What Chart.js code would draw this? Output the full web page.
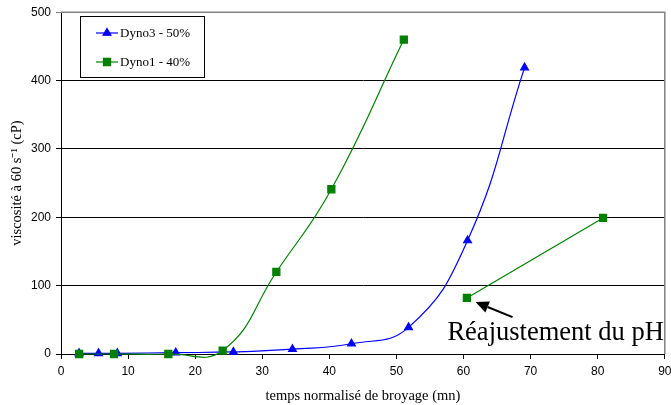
<!DOCTYPE html>
<html>
<head>
<meta charset="utf-8">
<script src="https://cdn.jsdelivr.net/npm/chart.js@4/dist/chart.umd.min.js"></script>
<style>
  html, body { margin: 0; padding: 0; background: #fff; }
  #wrap { width: 671px; height: 405px; }
</style>
</head>
<body>
<div id="wrap"><canvas id="chart"></canvas></div>
<script>
// --- DATA ---
const dyno3X = [2.7, 5.6, 8.4, 17.1, 25.7, 34.5, 43.3, 51.8, 60.6, 69.1];
const dyno3Y = [1, 1, 1, 2, 3, 7, 15, 39, 166, 419];
// null = break in the curve before the pH re-adjustment
const dyno1X = [2.7, 7.9, 16.0, 24.1, 32.1, 40.3, 51.1, 55, 60.5, 80.8];
const dyno1Y = [0, 0, 0, 5, 120, 241, 460, null, 82, 199];
const seriesNames = ["Dyno3 - 50%", "Dyno1 - 40%"];
const xTicks = [0, 10, 20, 30, 40, 50, 60, 70, 80, 90];
const yTicks = [0, 100, 200, 300, 400, 500];
const noteText = "Réajustement du pH";

const BLUE = "#0000ff";
const GREEN = "#008000";

function toPoints(xs, ys) {
  return xs.map((x, i) => ({ x: x, y: ys[i] }));
}

// legend drawn by hand: framed box, line + marker, serif text
const boxLegend = {
  id: "boxLegend",
  afterDraw(chart) {
    const ctx = chart.ctx;
    ctx.save();
    ctx.strokeStyle = "#000";
    ctx.lineWidth = 1;
    ctx.strokeRect(80.5, 16.5, 124, 61);
    ctx.font = "13px 'Liberation Serif', 'Times New Roman', serif";
    ctx.textBaseline = "middle";
    ctx.fillStyle = "#000";
    chart.data.datasets.forEach((ds, i) => {
      const y = 33 + i * 29;
      ctx.strokeStyle = ds.borderColor;
      ctx.lineWidth = 1.2;
      ctx.beginPath();
      ctx.moveTo(96, y);
      ctx.lineTo(118, y);
      ctx.stroke();
      Chart.helpers.drawPoint(ctx, {
        pointStyle: ds.pointStyle,
        radius: ds.pointRadius,
        rotation: 0,
        borderWidth: 1
      }, 107, y);
      ctx.fillStyle = ds.pointBackgroundColor;
      ctx.fill();
      ctx.fillStyle = "#000";
      ctx.fillText(ds.label, 120, y + 1);
    });
    ctx.restore();
  }
};

// gray frame on the top/right, the note and its arrow
const frameAndNote = {
  id: "frameAndNote",
  beforeDatasetsDraw(chart) {
    const a = chart.chartArea;
    const ctx = chart.ctx;
    ctx.save();
    ctx.strokeStyle = "#808080";
    ctx.lineWidth = 1.5;
    ctx.beginPath();
    ctx.moveTo(a.left, a.top);
    ctx.lineTo(a.right, a.top);
    ctx.lineTo(a.right, a.bottom);
    ctx.stroke();
    ctx.restore();
  },
  afterDraw(chart) {
    const xs = chart.scales.x, ys = chart.scales.y;
    const ctx = chart.ctx;
    ctx.save();
    ctx.font = "26.5px 'Liberation Serif', 'Times New Roman', serif";
    ctx.fillStyle = "#000";
    ctx.textBaseline = "alphabetic";
    ctx.fillText(noteText, xs.getPixelForValue(57.6), ys.getPixelForValue(20));
    // arrow
    const tx = xs.getPixelForValue(61.8), ty = ys.getPixelForValue(76);
    const fx = xs.getPixelForValue(67.3), fy = ys.getPixelForValue(54);
    const ang = Math.atan2(ty - fy, tx - fx);
    const head = 13, half = 6;
    const bx = tx - head * Math.cos(ang), by = ty - head * Math.sin(ang);
    ctx.strokeStyle = "#000";
    ctx.lineWidth = 2;
    ctx.beginPath();
    ctx.moveTo(fx, fy);
    ctx.lineTo(bx, by);
    ctx.stroke();
    ctx.beginPath();
    ctx.moveTo(tx, ty);
    ctx.lineTo(bx + half * Math.sin(ang), by - half * Math.cos(ang));
    ctx.lineTo(bx - half * Math.sin(ang), by + half * Math.cos(ang));
    ctx.closePath();
    ctx.fill();
    ctx.restore();
  }
};

const tickFont = { family: "'Liberation Sans', Arial, sans-serif", size: 12 };
const titleFont = { family: "'Liberation Serif', 'Times New Roman', serif", size: 14.5 };

new Chart(document.getElementById("chart"), {
  type: "line",
  data: {
    datasets: [
      {
        label: seriesNames[0],
        data: toPoints(dyno3X, dyno3Y),
        order: 2,
        borderColor: BLUE,
        backgroundColor: BLUE,
        pointBackgroundColor: BLUE,
        pointBorderColor: BLUE,
        pointStyle: "triangle",
        pointRadius: 4.5,
        borderWidth: 1.2,
        tension: 0.45,
        fill: false,
        clip: false
      },
      {
        label: seriesNames[1],
        data: toPoints(dyno1X, dyno1Y),
        order: 1,
        borderColor: GREEN,
        backgroundColor: GREEN,
        pointBackgroundColor: GREEN,
        pointBorderColor: GREEN,
        pointStyle: "rect",
        pointRadius: 5,
        borderWidth: 1.2,
        tension: 0.45,
        spanGaps: false,
        fill: false,
        clip: false
      }
    ]
  },
  options: {
    responsive: true,
    maintainAspectRatio: false,
    animation: false,
    layout: { padding: { top: 11, right: 2, left: 0, bottom: 0 } },
    elements: { line: { capBezierPoints: false } },
    plugins: {
      legend: { display: false },
      tooltip: { enabled: false }
    },
    scales: {
      x: {
        type: "linear",
        min: xTicks[0],
        max: xTicks[xTicks.length - 1],
        afterBuildTicks: (s) => { s.ticks = xTicks.map((v) => ({ value: v })); },
        afterFit: (s) => { s.height = 51; s.paddingRight = 5; },
        ticks: { color: "#000", font: tickFont, padding: 5, maxRotation: 0 },
        grid: { drawOnChartArea: false, drawTicks: true, tickLength: 5, color: "#000" },
        border: { color: "#000", width: 1 },
        title: {
          display: true,
          text: "temps normalisé de broyage (mn)",
          color: "#000",
          font: titleFont,
          padding: { top: 1, bottom: 0 }
        }
      },
      y: {
        min: yTicks[0],
        max: yTicks[yTicks.length - 1],
        afterBuildTicks: (s) => { s.ticks = yTicks.map((v) => ({ value: v })); },
        afterFit: (s) => { s.width = 61; },
        ticks: { color: "#000", font: tickFont, padding: 5 },
        grid: {
          drawTicks: true,
          tickLength: 5,
          color: (c) => (c.tick && c.tick.value === 500 ? "#808080" : "#000"),
          lineWidth: 1
        },
        border: { color: "#000", width: 1 },
        title: {
          display: true,
          text: "viscosité à 60 s⁻¹ (cP)",
          color: "#000",
          font: titleFont,
          padding: { top: 8, bottom: 0 }
        }
      }
    }
  },
  plugins: [frameAndNote, boxLegend]
});
</script>
</body>
</html>
